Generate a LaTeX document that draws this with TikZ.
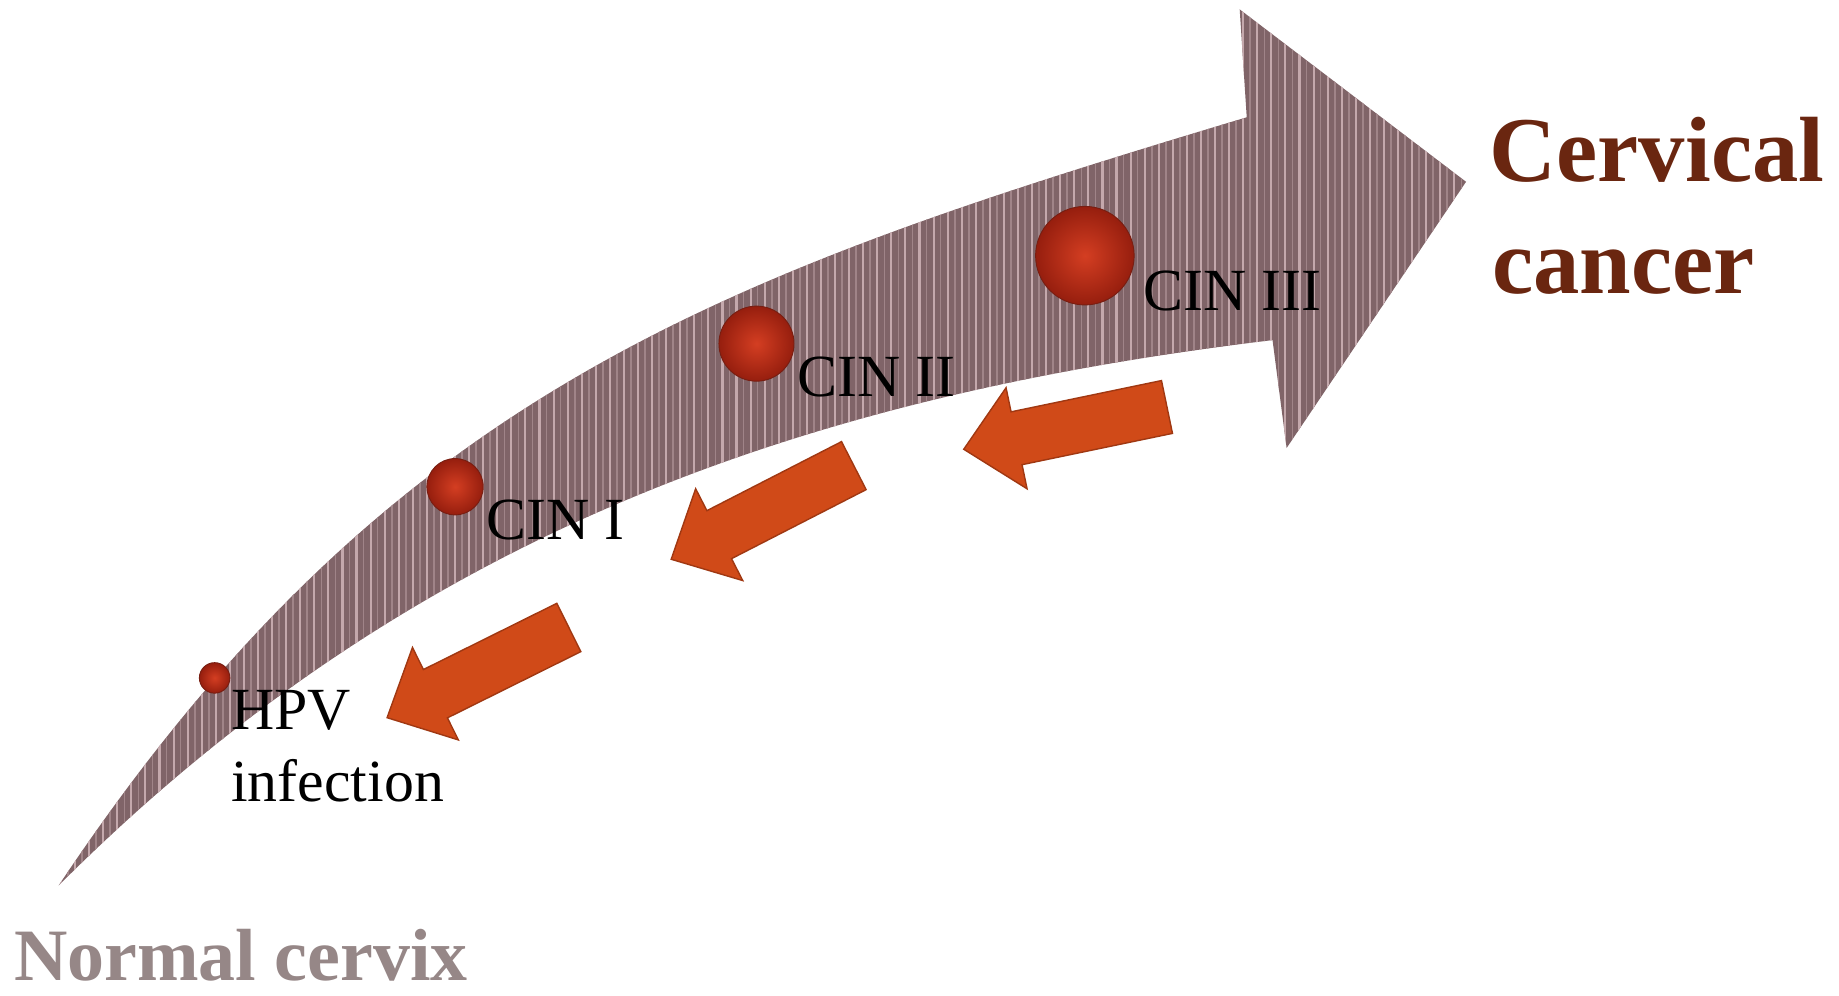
\documentclass[tikz,border=0pt]{standalone}
\usepackage{fontspec}
\setmainfont{Liberation Serif}
\definecolor{bandbase}{RGB}{128,100,104}
\definecolor{bandstripe}{RGB}{196,168,172}
\definecolor{bandstripeb}{RGB}{160,132,136}
\definecolor{orangefill}{RGB}{208,74,24}
\definecolor{orangeedge}{RGB}{160,56,18}
\definecolor{sphin}{RGB}{212,62,34}
\definecolor{sphout}{RGB}{150,30,14}
\definecolor{sphrim}{RGB}{120,30,18}
\definecolor{cancercol}{RGB}{106,38,16}
\definecolor{normalcol}{RGB}{150,135,135}
\tikzset{
  ball/.style={circle, inner sep=0pt, inner color=sphin, outer color=sphout, draw=sphrim, line width=0.8pt},
  lbl/.style={anchor=base west, inner sep=0pt, font=\fontsize{51}{60}\selectfont},
  backarrow/.style={fill=orangefill, draw=orangeedge, line width=1.2pt, line join=miter},
  stripe/.style={draw=bandstripe, line width=1.8pt},
  stripeb/.style={draw=bandstripeb, line width=1.4pt}
}
\newcommand{\orangearrow}[4]{%
  \begin{scope}[shift={(#1,#2)}, rotate=#3]
    \path[backarrow] (0,23) -- (#4-46,23) -- (#4-46,44) -- (#4,0) -- (#4-46,-44) -- (#4-46,-23) -- (0,-23) -- cycle;
  \end{scope}}
\begin{document}
\begin{tikzpicture}[x=1pt,y=-1pt]
\useasboundingbox (0,0) rectangle (1568,849);
% big curved arrow
\def\bigarrow{(50,755) .. controls (330,335) and (613,235) .. (1063,100) -- (1057,8) -- (1250,155) -- (1097,382) -- (1085,290) .. controls (685,338) and (350,455) .. (50,755) -- cycle}
\fill[bandbase] \bigarrow;
\begin{scope}
  \clip \bigarrow;
  \foreach \x in {40,52,...,1260} {
    \draw[stripe] (\x,0) -- (\x,800);
    \draw[stripeb] (\x+6,0) -- (\x+6,800);
  }
\end{scope}
% orange back arrows
\orangearrow{995}{347}{191.75}{177}
\orangearrow{728}{397}{207.15}{175}
\orangearrow{485}{535}{206.4}{173}
% spheres
\node[ball, minimum size=26pt] (s0) at (183,578) {};
\node[ball, minimum size=48pt] (s1) at (388,415) {};
\node[ball, minimum size=64pt] (s2) at (645,293) {};
\node[ball, minimum size=84pt] (s3) at (925,218) {};
% labels
\node[lbl] (hpv) at (197,622) {HPV};
\node[lbl] (inf) at (197,683) {infection};
\node[lbl] (cin1) at (415,460) {CIN I};
\node[lbl] (cin2) at (680,338) {CIN II};
\node[lbl] (cin3) at (975,265) {CIN III};
\node[anchor=base west, inner sep=0pt, text=cancercol, font=\fontsize{79}{95}\selectfont\bfseries] (cerv) at (1270,155) {Cervical};
\node[anchor=base west, inner sep=0pt, text=cancercol, font=\fontsize{79}{95}\selectfont\bfseries] (canc) at (1272,250) {cancer};
\node[anchor=base west, inner sep=0pt, text=normalcol, font=\fontsize{63}{70}\selectfont\bfseries] (norm) at (12,836) {Normal cervix};
\end{tikzpicture}
\end{document}
